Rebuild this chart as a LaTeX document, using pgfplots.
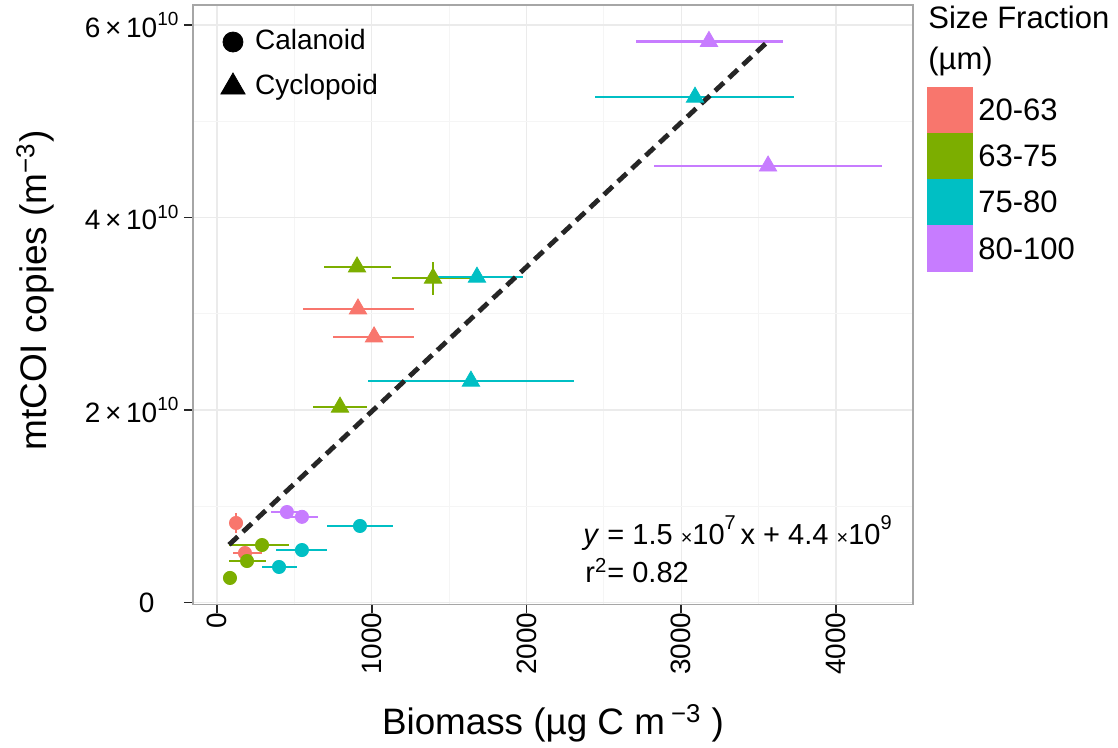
\documentclass[border=0pt]{standalone}
\usepackage{fontspec}
\setmainfont{Liberation Sans}
\usepackage{pgfplots}
\pgfplotsset{compat=1.18}
\definecolor{c1}{HTML}{F8766D}
\definecolor{c2}{HTML}{7CAE00}
\definecolor{c3}{HTML}{00BFC4}
\definecolor{c4}{HTML}{C77CFF}
\pgfplotsset{
  ebar/.style={only marks, forget plot, color=#1,
    error bars/x dir=both, error bars/x explicit, error bars/y dir=both, error bars/y explicit,
    error bars/error mark=none, error bars/error bar style={line width=1.25pt, color=#1}},
  circ/.style={ebar=#1, mark=*, mark size=3.3pt},
  tri/.style={ebar=#1, mark=triangle*, mark size=5pt},
}
\newcommand{\sci}[1]{#1\,×\,10\raisebox{0.42em}{\fontsize{9.5}{10}\selectfont 10}}
\begin{document}
\begin{tikzpicture}
\useasboundingbox (-96.5pt,-71.75pt) rectangle (462.5pt,302.25pt);
\begin{axis}[
  scale only axis, width=360pt, height=299.75pt,
  xmin=-155, xmax=4497.6, ymin=-2.08e8, ymax=6.208e10,
  xtick={0,1000,2000,3000,4000}, xticklabels={0,1000,2000,3000,4000},
  ytick={0,2e10,4e10,6e10},
  yticklabels={0\rule{12pt}{0pt}, \sci{2}, \sci{4}, \sci{6}},
  minor x tick num=1, minor y tick num=1,
  grid=both,
  major grid style={color=black!8, line width=0.7pt},
  minor grid style={color=black!4, line width=0.5pt},
  axis line style={draw=black!35, line width=0.75pt},
  tick align=outside, tick pos=left,
  major tick length=4.5pt, minor tick length=0pt,
  tick style={color=black!85, line width=0.8pt},
  ticklabel style={font=\fontsize{14}{16}\selectfont, text=black},
  xticklabel style={rotate=90, anchor=east},
  xticklabel shift=-4pt,
  yticklabel style={anchor=east, inner sep=0pt},
  yticklabel shift=2.6pt,
  legend style={at={(rel axis cs:0.0387,0.9666)}, anchor=north west, draw=none, fill=none,
    inner sep=0pt, outer sep=0pt, row sep=5.5pt, column sep=3pt,
    font=\fontsize{14}{16}\selectfont,
    nodes={text height=10pt, text depth=3pt, inner sep=2pt}},
  legend cell align=left,
  legend image code/.code={\draw[#1] plot coordinates {(0pt,0pt)};},
]
\addlegendimage{only marks, mark=*, mark size=5pt, black}
\addlegendentry{Calanoid}
\addlegendimage{only marks, mark=triangle*, mark size=7pt, black}
\addlegendentry{Cyclopoid}

% Calanoid (circles)
\addplot[circ=c1] table[x=x, y=y, x error minus=xm, x error plus=xp, y error minus=ym, y error plus=yp] {
x y xm xp ym yp
123 0.826e10 48 48 0.1e10 0.1e10
181 0.514e10 78 110 0 0
};
\addplot[circ=c2] table[x=x, y=y, x error minus=xm, x error plus=xp, y error minus=ym, y error plus=yp] {
x y xm xp ym yp
291 0.597e10 213 174 0 0
194 0.431e10 116 123 0 0
84 0.255e10 0 0 0 0
};
\addplot[circ=c3] table[x=x, y=y, x error minus=xm, x error plus=xp, y error minus=ym, y error plus=yp] {
x y xm xp ym yp
924 0.795e10 213 213 0 0
549 0.545e10 168 162 0 0
401 0.369e10 110 116 0 0
};
\addplot[circ=c4] table[x=x, y=y, x error minus=xm, x error plus=xp, y error minus=ym, y error plus=yp] {
x y xm xp ym yp
452 0.940e10 103 103 0 0
549 0.890e10 104 104 0 0
};
% Cyclopoid (triangles)
\addplot[tri=c1] table[x=x, y=y, x error minus=xm, x error plus=xp, y error minus=ym, y error plus=yp] {
x y xm xp ym yp
911 3.05e10 355 362 0 0
1015 2.76e10 265 258 0 0
};
\addplot[tri=c2] table[x=x, y=y, x error minus=xm, x error plus=xp, y error minus=ym, y error plus=yp] {
x y xm xp ym yp
905 3.486e10 214 219 0 0
1396 3.37e10 265 258 0.17e10 0.17e10
795 2.03e10 175 174 0 0
};
\addplot[tri=c3] table[x=x, y=y, x error minus=xm, x error plus=xp, y error minus=ym, y error plus=yp] {
x y xm xp ym yp
3089 5.25e10 646 640 0 0
1680 3.38e10 297 297 0 0
1641 2.30e10 665 666 0 0
};
\addplot[tri=c4] table[x=x, y=y, x error minus=xm, x error plus=xp, y error minus=ym, y error plus=yp] {
x y xm xp ym yp
3179 5.83e10 471 479 0 0
3561 4.535e10 737 736 0 0
};
% regression line
\addplot[forget plot, color=black!85, line width=2.4pt, dash pattern=on 6pt off 3.5pt] coordinates {(78,0.60e10) (3554,5.82e10)};
\end{axis}
% axis titles
\node[rotate=90, anchor=base, inner sep=0pt, font=\fontsize{18.5}{21}\selectfont] at (-73pt,157pt) {mtCOI copies (m\textsuperscript{−3})};
\node[anchor=base, inner sep=0pt, font=\fontsize{18.4}{21}\selectfont] at (180pt,-65.25pt) {Biomass (µg C m\,\textsuperscript{−3} )};
% equation
\node[anchor=base west, inner sep=0pt, font=\fontsize{14.5}{16}\selectfont] at (195pt,29.75pt) {\textit{y} = 1.5 {\fontsize{10}{10}\selectfont×}10\raisebox{0.55em}{\fontsize{10}{10}\selectfont 7}\,x + 4.4 {\fontsize{10}{10}\selectfont×}10\raisebox{0.55em}{\fontsize{10}{10}\selectfont 9}};
\node[anchor=base west, inner sep=0pt, font=\fontsize{14.5}{16}\selectfont] at (196pt,10.75pt) {r\textsuperscript{2}= 0.82};
% colour legend
\node[anchor=base west, inner sep=0pt, font=\fontsize{15.5}{18}\selectfont] at (367.5pt,287.75pt) {Size Fraction};
\node[anchor=base west, inner sep=0pt, font=\fontsize{15.5}{18}\selectfont] at (367.5pt,267.25pt) {(µm)};
\fill[c1] (367pt,258.75pt) rectangle (390pt,235.75pt);
\fill[c2] (367pt,235.75pt) rectangle (390pt,212.75pt);
\fill[c3] (367pt,212.75pt) rectangle (390pt,189.75pt);
\fill[c4] (367pt,189.75pt) rectangle (390pt,166.25pt);
\begin{scope}[every node/.style={anchor=west, inner sep=0pt, font=\fontsize{15.5}{18}\selectfont}]
\node at (392.5pt,247.25pt) {20-63};
\node at (392.5pt,224.25pt) {63-75};
\node at (392.5pt,201.25pt) {75-80};
\node at (392.5pt,178pt) {80-100};
\end{scope}
\end{tikzpicture}
\end{document}
